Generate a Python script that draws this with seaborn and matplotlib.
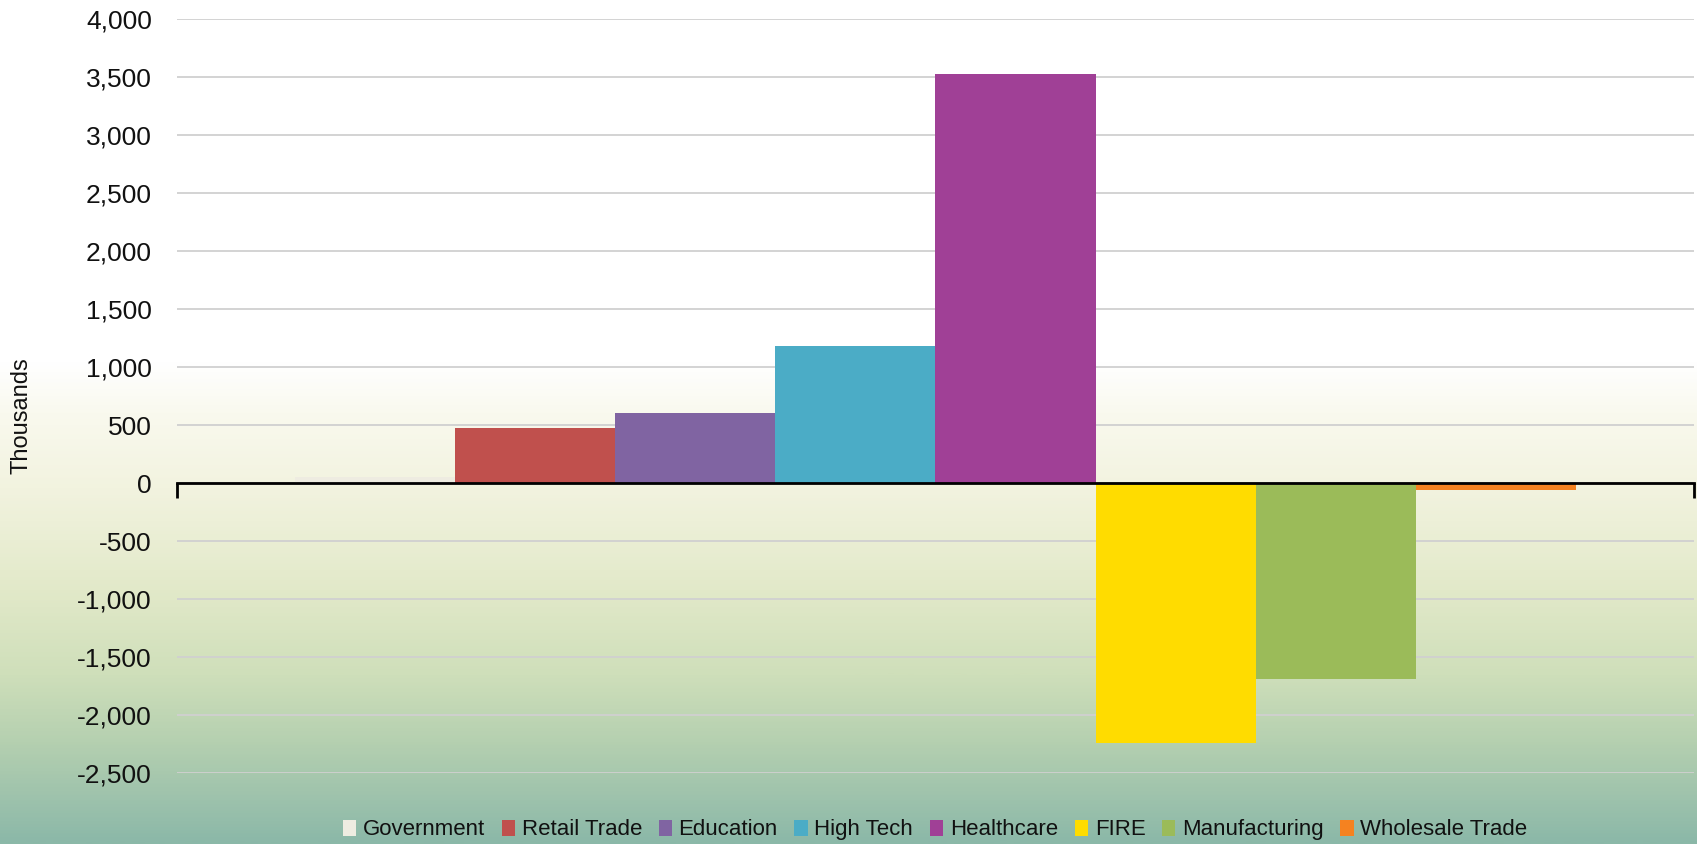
import numpy as np
import pandas as pd
import matplotlib
matplotlib.use("Agg")
import matplotlib.pyplot as plt
import seaborn as sns
from matplotlib.colors import LinearSegmentedColormap
from matplotlib.ticker import FuncFormatter
from matplotlib.patches import Patch

# ---- data ----
sectors = ["Government", "Retail Trade", "Education", "High Tech",
           "Healthcare", "FIRE", "Manufacturing", "Wholesale Trade"]
values = [50, 475, 605, 1180, 3530, -2240, -1690, -60]
colors = ["#EEECE1", "#C0504D", "#8064A2", "#4BACC6",
          "#A04096", "#FFDC00", "#9BBB59", "#F58220"]
group = ["Change"] * len(sectors)
yticks = list(range(-2500, 4001, 500))

sns.set_theme(style="white")
plt.rcParams["font.family"] = ["Liberation Sans", "DejaVu Sans"]

fig = plt.figure(figsize=(16.97, 8.44), dpi=100)

# background gradient over whole figure
bg = fig.add_axes([0, 0, 1, 1], zorder=-10)
stops = [(0.0, "#FFFFFF"), (0.43, "#FFFFFF"), (0.49, "#F9F9EE"),
         (0.58, "#F2F3DF"), (0.70, "#E2E9C9"), (0.80, "#CFDFBA"),
         (0.88, "#B5D0B0"), (0.95, "#9DC2AC"), (1.0, "#8BB8A8")]
cmap = LinearSegmentedColormap.from_list("bg", stops)
grad = np.linspace(0, 1, 800).reshape(-1, 1)
bg.imshow(grad, aspect="auto", cmap=cmap, interpolation="bilinear")
bg.axis("off")

ax = fig.add_axes([0.1043, 0.0838, 0.8939, 0.8933])
ax.patch.set_alpha(0)

df = pd.DataFrame({"group": group, "sector": sectors, "value": values})
sns.barplot(data=df, x="group", y="value", hue="sector", hue_order=sectors,
            palette=colors, width=0.844, saturation=1, errorbar=None,
            linewidth=0, ax=ax, legend=False)

ax.set_xlim(-0.5, 0.5)
ax.set_ylim(-2500, 4000)
ax.set_yticks(yticks)
ax.yaxis.set_major_formatter(FuncFormatter(lambda v, p: f"{v:,.0f}"))
ax.set_xticks([-0.5, 0.5])
ax.set_xticklabels(["", ""])
ax.set_xlabel("")
ax.set_ylabel("")

ax.grid(axis="y", color="#D0D0D0", linewidth=1.3)
ax.grid(axis="x", visible=False)
ax.set_axisbelow(True)

for s in ["left", "right", "top"]:
    ax.spines[s].set_visible(False)
ax.spines["bottom"].set_position(("data", 0))
ax.spines["bottom"].set_color("black")
ax.spines["bottom"].set_linewidth(2.0)
ax.spines["bottom"].set_zorder(5)

ax.tick_params(axis="x", bottom=True, direction="out", length=11,
               width=2.0, color="black")
ax.tick_params(axis="y", left=False, length=0, pad=18, labelsize=19,
               labelcolor="#111111")

fig.text(22 / 1697, 1 - 416 / 844, "Thousands", rotation=90,
         va="center", ha="center", fontsize=17, color="#111111")

handles = [Patch(facecolor=c, edgecolor="none") for c in colors]
fig.legend(handles, sectors, loc="center", bbox_to_anchor=(0.551, 0.0166),
           ncol=len(sectors), frameon=False, fontsize=16,
           handlelength=0.6, handleheight=0.75, handletextpad=0.3,
           columnspacing=0.75, labelcolor="#111111")

fig.savefig("out.png", dpi=100)
